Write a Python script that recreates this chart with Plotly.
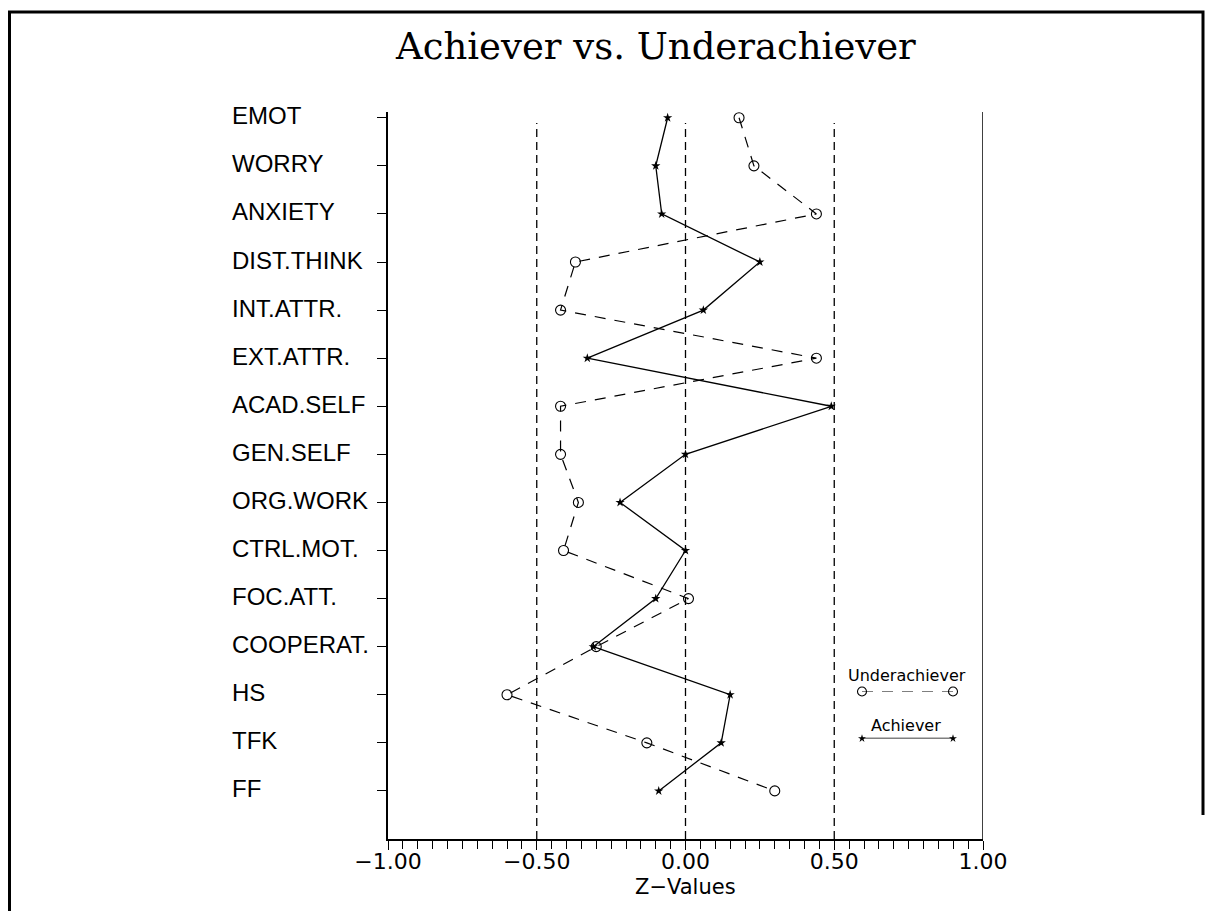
import plotly.graph_objects as go

# ---- data ----
categories = ["EMOT", "WORRY", "ANXIETY", "DIST.THINK", "INT.ATTR.", "EXT.ATTR.",
              "ACAD.SELF", "GEN.SELF", "ORG.WORK", "CTRL.MOT.", "FOC.ATT.",
              "COOPERAT.", "HS", "TFK", "FF"]
achiever = [-0.06, -0.10, -0.08, 0.25, 0.06, -0.33, 0.49, 0.00, -0.22, 0.00,
            -0.10, -0.31, 0.15, 0.12, -0.09]
underachiever = [0.18, 0.23, 0.44, -0.37, -0.42, 0.44, -0.42, -0.42, -0.36, -0.41,
                 0.01, -0.30, -0.60, -0.13, 0.30]
x_tickvals = [-1.0, -0.5, 0.0, 0.5, 1.0]
x_ticktext = ["\u22121.00", "\u22120.50", "0.00", "0.50", "1.00"]
ref_lines = [-0.5, 0.0, 0.5]

n = len(categories)
ypos = list(range(n, 0, -1))

OFF = 8  # default page margin of the html body
W, H = 1214 - OFF, 911 - OFF
L, R, T, B = 388 - OFF, 231, 112 - OFF, 72
pw, ph = W - L - R, H - T - B
def px_x(p):
    return (p - OFF - L) / pw
def px_y(p):
    return (H - B - (p - OFF)) / ph

fig = go.Figure()

fig.add_trace(go.Scatter(
    x=underachiever, y=ypos, mode="lines+markers", name="Underachiever",
    line=dict(color="black", width=1.2, dash="11px,9px"),
    marker=dict(symbol="circle-open", size=10, color="black", line=dict(width=1.1)),
    cliponaxis=False, showlegend=False))
fig.add_trace(go.Scatter(
    x=achiever, y=ypos, mode="lines+markers", name="Achiever",
    line=dict(color="black", width=1.3),
    marker=dict(symbol="star", size=7, color="black"),
    cliponaxis=False, showlegend=False))

# legend keys on an overlay axis pair
fig.add_trace(go.Scatter(
    x=[0, 1], y=[1, 1], xaxis="x2", yaxis="y2", mode="lines+markers",
    line=dict(color="black", width=1.2, dash="11px,9px"),
    marker=dict(symbol="circle-open", size=9, color="black", line=dict(width=1.1)),
    cliponaxis=False, showlegend=False, hoverinfo="skip"))
fig.add_trace(go.Scatter(
    x=[0, 1], y=[0, 0], xaxis="x2", yaxis="y2", mode="lines+markers",
    line=dict(color="black", width=1.3),
    marker=dict(symbol="star", size=6, color="black"),
    cliponaxis=False, showlegend=False, hoverinfo="skip"))

shapes = []
top_dash = (839 - 123) / (ph / (n + 0.12))
for v in ref_lines:
    shapes.append(dict(type="line", xref="x", yref="y", x0=v, x1=v, y0=0, y1=top_dash,
                       line=dict(color="black", width=1.3, dash="8px,5px")))
shapes.append(dict(type="line", xref="x", yref="paper", x0=1.0, x1=1.0, y0=0, y1=1,
                   line=dict(color="black", width=1.5)))
# page border
bx0, bx1 = px_x(9.5), px_x(1203)
by_top, by_bot, by_rbot = px_y(12), px_y(911), px_y(815)
shapes.append(dict(type="path", xref="paper", yref="paper",
                   path=f"M {bx0} {by_bot} L {bx0} {by_top} L {bx1} {by_top} L {bx1} {by_rbot}",
                   line=dict(color="black", width=3)))

annotations = []
for c, y in zip(categories, ypos):
    annotations.append(dict(text=c, x=px_x(230), xref="paper", y=y, yref="y",
                            xanchor="left", yanchor="middle", yshift=2, showarrow=False,
                            font=dict(family="Liberation Sans", size=24, color="black")))
annotations.append(dict(text="Achiever vs. Underachiever", x=px_x(655), y=px_y(47),
                        xref="paper", yref="paper", xanchor="center", yanchor="middle",
                        showarrow=False,
                        font=dict(family="DejaVu Serif", size=37, color="black")))
annotations.append(dict(text="Z\u2212Values", x=0.0, xref="x", y=px_y(887), yref="paper",
                        xanchor="center", yanchor="middle", showarrow=False,
                        font=dict(family="DejaVu Sans", size=21, color="black")))
annotations.append(dict(text="Underachiever", x=px_x(907), y=px_y(675), xref="paper",
                        yref="paper", xanchor="center", yanchor="middle", showarrow=False,
                        font=dict(family="DejaVu Sans", size=16, color="black")))
annotations.append(dict(text="Achiever", x=px_x(906), y=px_y(725), xref="paper",
                        yref="paper", xanchor="center", yanchor="middle", showarrow=False,
                        font=dict(family="DejaVu Sans", size=16, color="black")))

fig.update_layout(
    width=W, height=H, margin=dict(l=L, r=R, t=T, b=B),
    paper_bgcolor="white", plot_bgcolor="white",
    shapes=shapes, annotations=annotations,
    xaxis=dict(range=[-1.0, 1.0], tickvals=x_tickvals, ticktext=x_ticktext,
               showgrid=False, zeroline=False, showline=True, linecolor="black",
               linewidth=1.5, ticks="outside", ticklen=9, tickcolor="black",
               tickwidth=1.2, ticklabelstandoff=-7,
               minor=dict(dtick=0.05, ticks="outside", ticklen=8, tickcolor="black",
                          tickwidth=1, showgrid=False),
               tickfont=dict(family="DejaVu Sans", size=22, color="black")),
    yaxis=dict(range=[0, n + 0.12], tickvals=ypos, showticklabels=False,
               showgrid=False, zeroline=False, showline=True, linecolor="black",
               linewidth=1.5, ticks="outside", ticklen=9, tickcolor="black",
               tickwidth=1.2),
    xaxis2=dict(domain=[px_x(862), px_x(953)], range=[0, 1], anchor="y2",
                visible=False, fixedrange=True),
    yaxis2=dict(domain=[px_y(738.5), px_y(691.5)], range=[0, 1], anchor="x2",
                visible=False, fixedrange=True),
)

fig.write_html("out.html")
